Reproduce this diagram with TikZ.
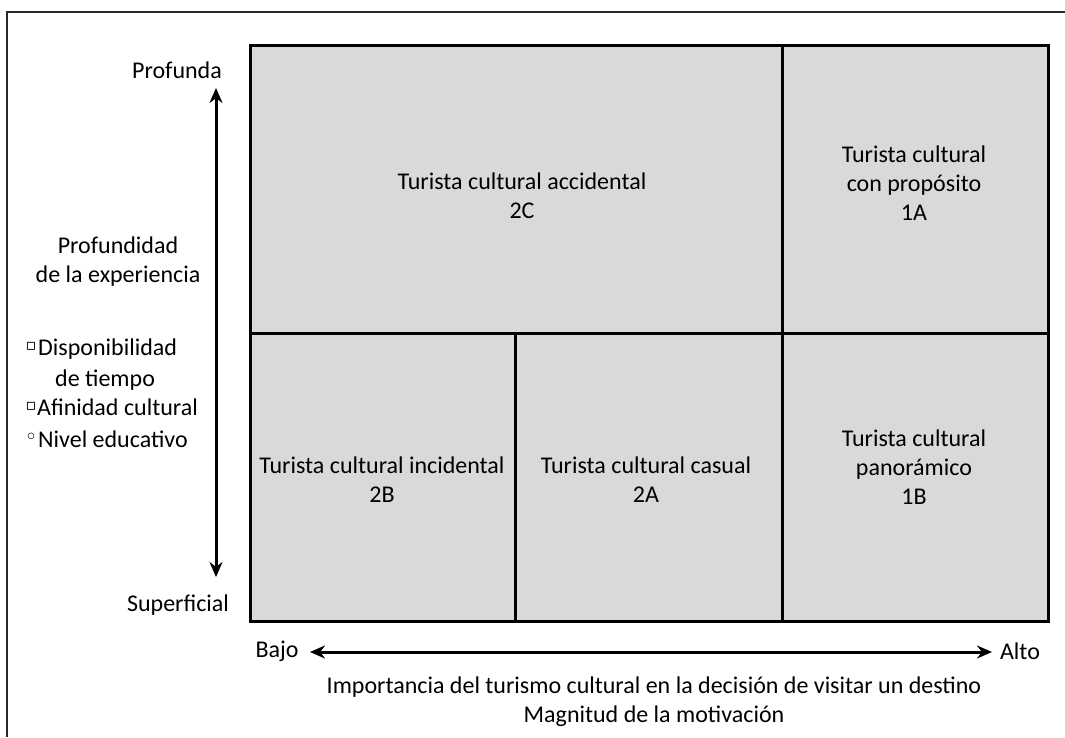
\documentclass[tikz,border=0pt]{standalone}
\usepackage{fontspec}
\setmainfont{Carlito}
\newfontfamily\symfont{DejaVu Sans}
\usetikzlibrary{arrows.meta}
\definecolor{cellgray}{RGB}{217,217,217}
\definecolor{framegray}{RGB}{40,40,40}
\begin{document}
\begin{tikzpicture}[x=1pt,y=-1pt,
  cell/.style={draw=black, line width=2.5pt, fill=cellgray, inner sep=0pt, anchor=north west},
  lbl/.style={font=\fontsize{24}{29}\selectfont, align=center, inner sep=0pt},
  bul/.style={font=\symfont\fontsize{16}{18}\selectfont, inner sep=0pt},
  axis/.style={line width=3pt, {Stealth[length=15pt,width=13pt]}-{Stealth[length=15pt,width=13pt]}},
  frame/.style={draw=framegray, line width=1.6pt}]
\useasboundingbox (0,0) rectangle (1065,737);
% outer frame (top and left only)
\coordinate (fbl) at (7,737);
\coordinate (ftl) at (7,12);
\coordinate (ftr) at (1065,12);
\draw[frame] (fbl) -- (ftl) -- (ftr);
% cells
\node[cell, minimum width=532, minimum height=288] (c2C) at (249,44) {};
\node[cell, minimum width=266, minimum height=288] (c1A) at (781,44) {};
\node[cell, minimum width=265, minimum height=288] (c2B) at (249,332) {};
\node[cell, minimum width=267, minimum height=288] (c2A) at (514,332) {};
\node[cell, minimum width=266, minimum height=288] (c1B) at (781,332) {};
% cell labels
\node[lbl] (t2C) at (522,196) {Turista cultural accidental\\2C};
\node[lbl] (t1A) at (914,183) {Turista cultural\\con propósito\\1A};
\node[lbl] (t2B) at (382,480) {Turista cultural incidental\\2B};
\node[lbl] (t2A) at (646,480) {Turista cultural casual\\2A};
\node[lbl] (t1B) at (914,467) {Turista cultural\\panorámico\\1B};
% vertical axis
\node[lbl] (prof) at (177,70) {Profunda};
\node[lbl] (sup) at (178,605) {Superficial};
\coordinate (vtop) at (216,88);
\coordinate (vbot) at (216,577);
\draw[axis] (vtop) -- (vbot);
\node[lbl] (pexp) at (118,262) {Profundidad\\de la experiencia};
% factors
\node[bul] (q1) at (31,346) {▫};
\node[lbl, anchor=base west] (f1) at (38,355) {Disponibilidad};
\node[lbl, anchor=base west] (f1b) at (55,386) {de tiempo};
\node[bul] (q2) at (31,406) {▫};
\node[lbl, anchor=base west] (f2) at (37,415) {Afinidad cultural};
\node[bul, font=\symfont\fontsize{22}{24}\selectfont] (q3) at (31,439) {◦};
\node[lbl, anchor=base west] (f3) at (38,447) {Nivel educativo};
% horizontal axis
\node[lbl] (bajo) at (277,651) {Bajo};
\node[lbl] (alto) at (1020,651) {Alto};
\coordinate (hl) at (310,652);
\coordinate (hr) at (992,652);
\draw[axis] (hl) -- (hr);
\node[lbl] (xlab) at (654,702) {Importancia del turismo cultural en la decisión de visitar un destino\\Magnitud de la motivación};
\end{tikzpicture}
\end{document}
